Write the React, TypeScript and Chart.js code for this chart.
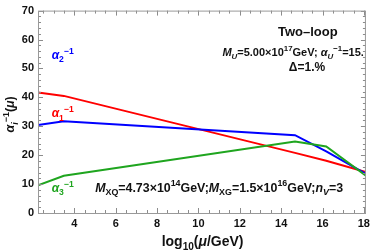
import React, { useEffect, useRef } from "react";
import { Chart, registerables } from "chart.js";

Chart.register(...registerables);

const muLog = [2.24, 3.49, 14.67, 16.18, 18.1];
const alpha1Inv = [41.7, 40.5, 20.8, 18.1, 14.2];
const alpha2Inv = [30.4, 31.75, 26.9, 21.3, 13.5];
const alpha3Inv = [9.6, 12.9, 24.7, 23.0, 12.9];
const xTickLabels = [4, 6, 8, 10, 12, 14, 16, 18];
const yTickLabels = [0, 10, 20, 30, 40, 50, 60, 70];

const RED = "#ff0000";
const BLUE = "#0000ff";
const GREEN = "#1fa51f";
const FONT = '"Liberation Sans", Arial, sans-serif';

type Seg = { t: string; it?: boolean; s?: "sup" | "sub" };

function drawRich(
  ctx: CanvasRenderingContext2D,
  segs: Seg[],
  x: number,
  y: number,
  size: number,
  color: string,
  align: "center" | "left" = "center"
) {
  const fontOf = (g: Seg) =>
    `${g.it ? "italic " : ""}bold ${g.s ? (size * 0.72).toFixed(1) : size}px ${FONT}`;
  let total = 0;
  const widths: number[] = [];
  for (const g of segs) {
    ctx.font = fontOf(g);
    const w = ctx.measureText(g.t).width;
    widths.push(w);
    total += w;
  }
  let cx = align === "center" ? x - total / 2 : x;
  ctx.fillStyle = color;
  ctx.textBaseline = "alphabetic";
  ctx.textAlign = "left";
  segs.forEach((g, i) => {
    ctx.font = fontOf(g);
    const dy = g.s === "sup" ? -size * 0.42 : g.s === "sub" ? size * 0.3 : 0;
    ctx.fillText(g.t, cx, y + dy);
    cx += widths[i];
  });
}

const framePlugin = {
  id: "frameTicks",
  afterDatasetsDraw(chart: any) {
    const { ctx, chartArea: a, scales } = chart;
    const xs = scales.x;
    const ys = scales.y;
    ctx.save();
    ctx.strokeStyle = "#8c8c8c";
    ctx.lineWidth = 1;
    ctx.beginPath();
    for (let v = 2.5; v <= 18.01; v += 0.5) {
      const major = Math.abs(v / 2 - Math.round(v / 2)) < 1e-6;
      const len = major ? 5 : 3;
      const px = Math.round(xs.getPixelForValue(v)) + 0.5;
      ctx.moveTo(px, a.bottom);
      ctx.lineTo(px, a.bottom - len);
      ctx.moveTo(px, a.top);
      ctx.lineTo(px, a.top + len);
    }
    for (let v = 0; v <= 70.01; v += 2) {
      const major = v % 10 === 0;
      const len = major ? 5 : 3;
      const py = Math.round(ys.getPixelForValue(v)) + 0.5;
      ctx.moveTo(a.left, py);
      ctx.lineTo(a.left + len, py);
      ctx.moveTo(a.right, py);
      ctx.lineTo(a.right - len, py);
    }
    ctx.stroke();
    ctx.strokeStyle = "#999999";
    ctx.strokeRect(a.left + 0.5, a.top + 0.5, a.right - a.left - 1, a.bottom - a.top);
    ctx.restore();
  },
  afterDraw(chart: any) {
    const { ctx, scales } = chart;
    const xs = scales.x;
    const ys = scales.y;
    ctx.save();
    drawRich(ctx, [{ t: "Two–loop" }], xs.getPixelForValue(15.29), ys.getPixelForValue(61.3), 13, "#111");
    drawRich(
      ctx,
      [
        { t: "M", it: true },
        { t: "U", it: true, s: "sub" },
        { t: "=5.00×10" },
        { t: "17", s: "sup" },
        { t: "GeV; " },
        { t: "α", it: true },
        { t: "U", it: true, s: "sub" },
        { t: "−1", s: "sup" },
        { t: "=15." },
      ],
      xs.getPixelForValue(14.58),
      ys.getPixelForValue(54.3),
      11,
      "#111"
    );
    drawRich(ctx, [{ t: "Δ=1.%" }], xs.getPixelForValue(15.25), ys.getPixelForValue(49.2), 12, "#111");
    drawRich(
      ctx,
      [
        { t: "M", it: true },
        { t: "XQ", s: "sub" },
        { t: "=4.73×10" },
        { t: "14", s: "sup" },
        { t: "GeV;" },
        { t: "M", it: true },
        { t: "XG", s: "sub" },
        { t: "=1.5×10" },
        { t: "16", s: "sup" },
        { t: "GeV;" },
        { t: "n", it: true },
        { t: "V", it: true, s: "sub" },
        { t: "=3" },
      ],
      xs.getPixelForValue(11.0),
      ys.getPixelForValue(7.4),
      12.4,
      "#111"
    );
    const lx = xs.getPixelForValue(2.9);
    drawRich(
      ctx,
      [{ t: "α", it: true }, { t: "2", s: "sub" }, { t: "−1", s: "sup" }],
      lx,
      ys.getPixelForValue(53.4),
      12,
      BLUE,
      "left"
    );
    drawRich(
      ctx,
      [{ t: "α", it: true }, { t: "1", s: "sub" }, { t: "−1", s: "sup" }],
      lx,
      ys.getPixelForValue(33.1),
      12,
      RED,
      "left"
    );
    drawRich(
      ctx,
      [{ t: "α", it: true }, { t: "3", s: "sub" }, { t: "−1", s: "sup" }],
      lx,
      ys.getPixelForValue(7.4),
      12,
      GREEN,
      "left"
    );
    // x title
    drawRich(
      ctx,
      [{ t: "log" }, { t: "10", s: "sub" }, { t: "(" }, { t: "μ", it: true }, { t: "/GeV)" }],
      xs.getPixelForValue(10.2),
      246,
      14,
      "#111"
    );
    // y title
    ctx.translate(14, ys.getPixelForValue(34.1));
    ctx.rotate(-Math.PI / 2);
    drawRich(
      ctx,
      [{ t: "α", it: true }, { t: "i", it: true, s: "sub" }, { t: "−1", s: "sup" }, { t: "(" }, { t: "μ", it: true }, { t: ")" }],
      0,
      0,
      12.5,
      "#111"
    );
    ctx.restore();
  },
};

export default function App() {
  const ref = useRef<HTMLCanvasElement | null>(null);
  useEffect(() => {
    document.body.style.margin = "0";
    const mk = (vals: number[]) => muLog.map((x, i) => ({ x, y: vals[i] }));
    const chart = new Chart(ref.current as HTMLCanvasElement, {
      type: "line",
      data: {
        datasets: [
          { label: "a1", data: mk(alpha1Inv), borderColor: RED, borderWidth: 2, pointRadius: 0, order: 3, tension: 0 },
          { label: "a2", data: mk(alpha2Inv), borderColor: BLUE, borderWidth: 2, pointRadius: 0, order: 2, tension: 0 },
          { label: "a3", data: mk(alpha3Inv), borderColor: GREEN, borderWidth: 2, pointRadius: 0, order: 1, tension: 0 },
        ],
      },
      options: {
        animation: false,
        responsive: false,
        maintainAspectRatio: false,
        layout: { padding: { top: 6, right: 3, left: 0, bottom: 0 } },
        plugins: { legend: { display: false }, tooltip: { enabled: false } },
        scales: {
          x: {
            type: "linear",
            min: 2.24,
            max: 18.1,
            grid: { display: false, drawTicks: false },
            border: { display: false },
            afterBuildTicks: (s: any) => {
              s.ticks = xTickLabels.map((v) => ({ value: v }));
            },
            afterFit: (s: any) => {
              s.height = 39;
            },
            ticks: {
              padding: 4,
              maxRotation: 0,
              autoSkip: false,
              color: "#111",
              font: { family: FONT, size: 11, weight: "bold" },
            },
          },
          y: {
            type: "linear",
            min: 0,
            max: 70,
            grid: { display: false, drawTicks: false },
            border: { display: false },
            afterBuildTicks: (s: any) => {
              s.ticks = yTickLabels.map((v) => ({ value: v }));
            },
            afterFit: (s: any) => {
              s.width = 38;
            },
            ticks: {
              padding: 4,
              color: "#111",
              font: { family: FONT, size: 11, weight: "bold" },
            },
          },
        },
      },
      plugins: [framePlugin],
    } as any);
    return () => chart.destroy();
  }, []);
  return <canvas ref={ref} width={374} height={252} style={{ display: "block" }} />;
}
